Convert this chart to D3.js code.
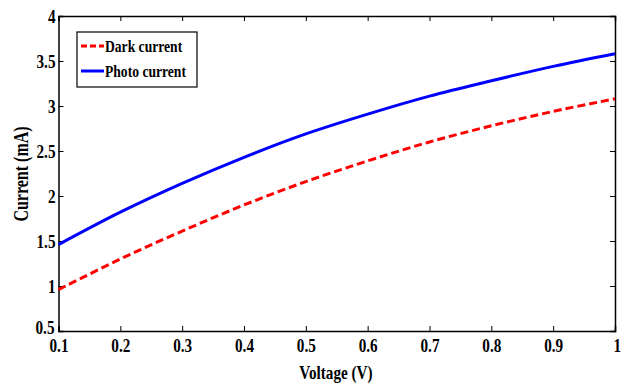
<!DOCTYPE html>
<html>
<head>
<meta charset="utf-8">
<script src="https://cdn.jsdelivr.net/npm/d3@7"></script>
<style>
  body { margin: 0; background: #fff; }
  svg text { font-family: "Liberation Serif", "Times New Roman", serif; font-weight: bold; fill: #000; }
</style>
</head>
<body>
<div id="chart"></div>
<script>
const voltage = [0.1, 0.2, 0.3, 0.4, 0.5, 0.6, 0.7, 0.8, 0.9, 1.0];
const darkCurrent = [0.96, 1.30, 1.61, 1.90, 2.16, 2.39, 2.60, 2.78, 2.94, 3.08];
const photoCurrent = [1.46, 1.82, 2.14, 2.43, 2.69, 2.91, 3.11, 3.28, 3.44, 3.58];
const xTicks = [0.1, 0.2, 0.3, 0.4, 0.5, 0.6, 0.7, 0.8, 0.9, 1];
const yTicks = [0.5, 1, 1.5, 2, 2.5, 3, 3.5, 4];

const width = 622, height = 385;
const margin = { top: 16, right: 7, bottom: 54, left: 58.5 };
const w = width - margin.left - margin.right;
const h = height - margin.top - margin.bottom;

const svg = d3.select('#chart').append('svg')
  .attr('width', width).attr('height', height);
const g = svg.append('g')
  .attr('transform', 'translate(' + margin.left + ',' + margin.top + ')');

const x = d3.scaleLinear().domain([0.1, 1]).range([0, w]);
const y = d3.scaleLinear().domain([0.5, 4]).range([h, 0]);

// axes: ticks pointing inward, box on all sides
const fmt = d => d3.format('')(d);
const xAxis = g.append('g').attr('transform', 'translate(0,' + h + ')')
  .call(d3.axisBottom(x).tickValues(xTicks).tickSize(-5).tickPadding(8).tickFormat(fmt));
const yAxis = g.append('g')
  .call(d3.axisLeft(y).tickValues(yTicks).tickSize(-5).tickPadding(3).tickFormat(fmt));
g.append('g').call(d3.axisTop(x).tickValues(xTicks).tickSize(-5).tickFormat(''));
g.append('g').attr('transform', 'translate(' + w + ',0)')
  .call(d3.axisRight(y).tickValues(yTicks).tickSize(-5).tickFormat(''));

g.selectAll('.domain').attr('stroke', '#000').attr('stroke-width', 1.5);
g.selectAll('.tick line').attr('stroke', '#000').attr('stroke-width', 1);
g.selectAll('.tick text').attr('font-size', 19).attr('font-family', null);
// 0.5 sits just above-left of 0.1 in the corner
yAxis.selectAll('.tick text').filter(d => d === 0.5).attr('dy', '0.15em').attr('x', -4);
xAxis.selectAll('.tick text').filter(d => d === 1).attr('dx', '0.1em');

const line = (vals) => d3.line()
  .x((d, i) => x(voltage[i]))
  .y(d => y(d))
  .curve(d3.curveCatmullRom)(vals);

g.append('path').attr('d', line(photoCurrent))
  .attr('fill', 'none').attr('stroke', '#0000ff').attr('stroke-width', 3);
g.append('path').attr('d', line(darkCurrent))
  .attr('fill', 'none').attr('stroke', '#ff0000').attr('stroke-width', 3)
  .attr('stroke-dasharray', '8,4');

// labels
svg.append('text').attr('x', 336).attr('y', 379)
  .attr('text-anchor', 'middle').attr('font-size', 19).text('Voltage (V)');
svg.append('text')
  .attr('transform', 'translate(28,174) rotate(-90)')
  .attr('text-anchor', 'middle').attr('font-size', 20).text('Current (mA)');

// legend
const leg = svg.append('g').attr('transform', 'translate(77,32)');
leg.append('rect').attr('width', 120).attr('height', 55)
  .attr('fill', '#fff').attr('stroke', '#000').attr('stroke-width', 1.2);
const items = [
  { name: 'Dark current', color: '#ff0000', dash: '6,3' },
  { name: 'Photo current', color: '#0000ff', dash: null }
];
items.forEach((it, i) => {
  const yy = 14 + i * 25;
  leg.append('line').attr('x1', 4).attr('x2', 27).attr('y1', yy).attr('y2', yy)
    .attr('stroke', it.color).attr('stroke-width', 3)
    .attr('stroke-dasharray', it.dash);
  leg.append('text').attr('x', 28).attr('y', yy + 6).attr('font-size', 17).text(it.name);
});

// the original figure's lettering is narrow and tall: squeeze every text horizontally
svg.selectAll('text').each(function () {
  const len = this.getComputedTextLength();
  if (len > 0) d3.select(this).attr('textLength', len * 0.8).attr('lengthAdjust', 'spacingAndGlyphs');
});
</script>
</body>
</html>
